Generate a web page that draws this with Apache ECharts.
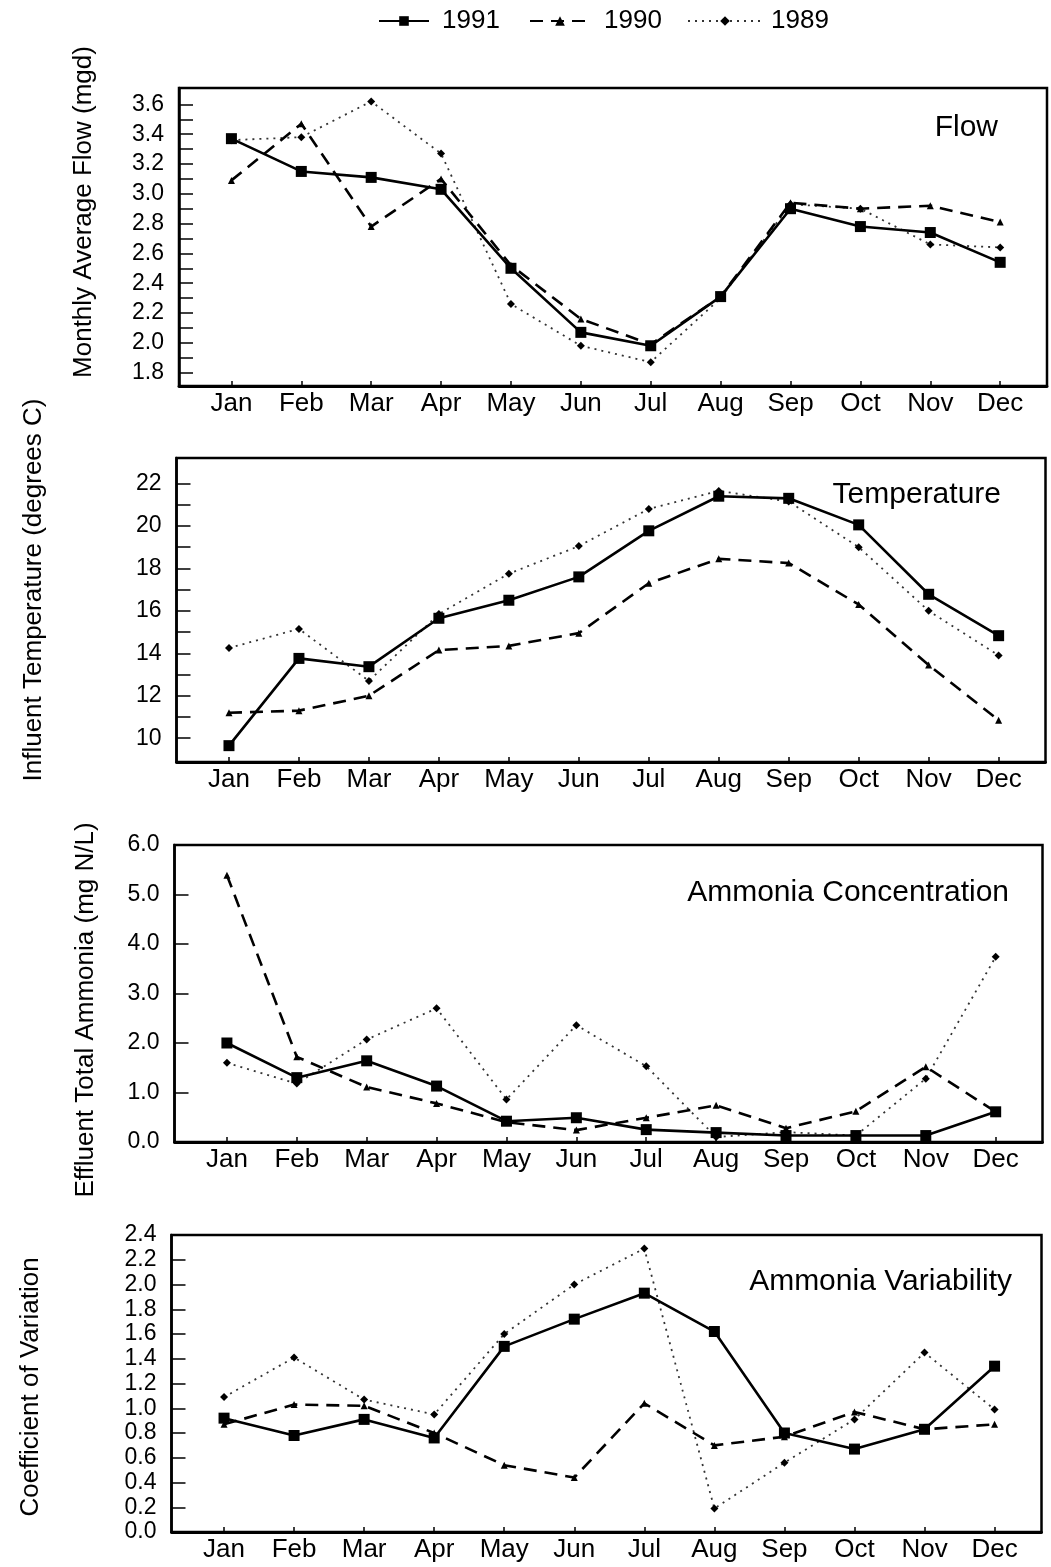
<!DOCTYPE html>
<html>
<head>
<meta charset="utf-8">
<script src="https://cdn.jsdelivr.net/npm/echarts@6/dist/echarts.min.js"></script>
<style>
  html, body { margin: 0; padding: 0; background: #fff; }
  #chart { width: 1051px; height: 1567px; }
</style>
</head>
<body>
<div id="chart"></div>
<script>
// Monthly wastewater treatment summary, three years side by side.
const months = ['Jan', 'Feb', 'Mar', 'Apr', 'May', 'Jun', 'Jul', 'Aug', 'Sep', 'Oct', 'Nov', 'Dec'];
const monthIndex = [1, 2, 3, 4, 5, 6, 7, 8, 9, 10, 11, 12];
const years = ['1991', '1990', '1989'];

// Monthly average flow (mgd)
const flow1991 = [3.37, 3.15, 3.11, 3.03, 2.50, 2.07, 1.98, 2.31, 2.90, 2.78, 2.74, 2.54];
const flow1990 = [3.09, 3.47, 2.78, 3.10, 2.52, 2.16, 1.99, 2.31, 2.94, 2.90, 2.92, 2.81];
const flow1989 = [3.36, 3.38, 3.62, 3.27, 2.26, 1.98, 1.87, 2.30, 2.93, 2.90, 2.66, 2.64];

// Influent temperature (degrees C)
const temp1991 = [9.65, 13.76, 13.37, 15.65, 16.5, 17.6, 19.77, 21.4, 21.3, 20.05, 16.78, 14.83];
const temp1990 = [11.2, 11.3, 12.0, 14.15, 14.35, 14.95, 17.3, 18.45, 18.25, 16.3, 13.45, 10.85];
const temp1989 = [14.25, 15.15, 12.7, 15.85, 17.75, 19.05, 20.8, 21.65, 21.15, 19.0, 16.0, 13.9];

// Effluent total ammonia (mg N/L)
const ammo1991 = [2.00, 1.30, 1.64, 1.13, 0.42, 0.49, 0.25, 0.19, 0.13, 0.13, 0.13, 0.61];
const ammo1990 = [5.39, 1.72, 1.11, 0.78, 0.40, 0.24, 0.49, 0.74, 0.28, 0.62, 1.52, 0.61];
const ammo1989 = [1.60, 1.18, 2.07, 2.70, 0.86, 2.36, 1.53, 0.10, 0.20, 0.13, 1.28, 3.74];

// Coefficient of variation of ammonia
const cv1991 = [0.92, 0.78, 0.91, 0.76, 1.50, 1.72, 1.93, 1.62, 0.80, 0.67, 0.83, 1.34];
const cv1990 = [0.87, 1.03, 1.02, 0.80, 0.54, 0.44, 1.04, 0.70, 0.77, 0.97, 0.83, 0.87];
const cv1989 = [1.09, 1.41, 1.07, 0.95, 1.60, 2.00, 2.29, 0.19, 0.56, 0.91, 1.45, 0.99];

// Tick positions and labelled ticks of each value axis
const flowTicks = [1.8, 1.9, 2.0, 2.1, 2.2, 2.3, 2.4, 2.5, 2.6, 2.7, 2.8, 2.9, 3.0, 3.1, 3.2, 3.3, 3.4, 3.5, 3.6];
const flowLabels = [1.8, 2.0, 2.2, 2.4, 2.6, 2.8, 3.0, 3.2, 3.4, 3.6];
const tempTicks = [10, 11, 12, 13, 14, 15, 16, 17, 18, 19, 20, 21, 22];
const tempLabels = [10, 12, 14, 16, 18, 20, 22];
const ammoTicks = [0, 1, 2, 3, 4, 5, 6];
const ammoLabels = [0, 1, 2, 3, 4, 5, 6];
const cvTicks = [0, 0.2, 0.4, 0.6, 0.8, 1.0, 1.2, 1.4, 1.6, 1.8, 2.0, 2.2, 2.4];
const cvLabels = [0, 0.2, 0.4, 0.6, 0.8, 1.0, 1.2, 1.4, 1.6, 1.8, 2.0, 2.2, 2.4];

const FONT = '"Liberation Sans", Arial, Helvetica, sans-serif';

const panels = [
  { title: 'Flow', axisName: 'Monthly Average Flow (mgd)',
    series: [flow1991, flow1990, flow1989], ticks: flowTicks, labels: flowLabels,
    min: 1.71, max: 3.71, digits: 1,
    grid: { left: 179, top: 88, width: 868, height: 298 },
    titlePos: [998, 128], namePos: [84, 212] },
  { title: 'Temperature', axisName: 'Influent Temperature (degrees C)',
    series: [temp1991, temp1990, temp1989], ticks: tempTicks, labels: tempLabels,
    min: 8.88, max: 23.2, digits: 0,
    grid: { left: 176.5, top: 458, width: 869, height: 304 },
    titlePos: [1001, 495], namePos: [34, 590] },
  { title: 'Ammonia Concentration', axisName: 'Effluent Total Ammonia (mg N/L)',
    series: [ammo1991, ammo1990, ammo1989], ticks: ammoTicks, labels: ammoLabels,
    min: 0, max: 6, digits: 1,
    grid: { left: 174.5, top: 845, width: 868, height: 297 },
    titlePos: [1009, 893], namePos: [86, 1010] },
  { title: 'Ammonia Variability', axisName: 'Coefficient of Variation',
    series: [cv1991, cv1990, cv1989], ticks: cvTicks, labels: cvLabels,
    min: 0, max: 2.4, digits: 1,
    grid: { left: 171.5, top: 1235, width: 870, height: 297 },
    titlePos: [1012, 1282], namePos: [31, 1387] }
];

const seriesStyle = {
  '1991': { symbol: 'rect', symbolSize: 11, lineStyle: { color: '#000', width: 2.6, type: 'solid' }, z: 5 },
  '1990': { symbol: 'triangle', symbolSize: 7, lineStyle: { color: '#000', width: 2.6, type: [13, 8] }, z: 4 },
  '1989': { symbol: 'diamond', symbolSize: 8, lineStyle: { color: '#333', width: 1.8, type: [2, 5] }, z: 3 }
};

// One legend block per year so each key sample can have its own length
const legendKeys = [
  { name: '1991', left: 378, itemWidth: 50, textPad: 8 },
  { name: '1990', left: 529, itemWidth: 60, textPad: 9 },
  { name: '1989', left: 687, itemWidth: 74, textPad: 4 }
];

const grid = [], xAxis = [], yAxis = [], series = [], graphic = [];

panels.forEach((p, i) => {
  grid.push(Object.assign({ show: true, borderColor: '#000', borderWidth: 2.5, containLabel: false }, p.grid));

  xAxis.push({
    type: 'value', gridIndex: i, min: 0.25, max: 12.67,
    axisLine: { show: true, onZero: false, lineStyle: { color: '#000', width: 2.8 } },
    axisTick: { show: true, inside: true, length: 5, customValues: monthIndex, lineStyle: { color: '#000', width: 1.5 } },
    axisLabel: { customValues: monthIndex, formatter: v => months[Math.round(v) - 1],
      fontSize: 26, fontFamily: FONT, color: '#000', margin: 5 },
    splitLine: { show: false }
  });

  yAxis.push({
    type: 'value', gridIndex: i, min: p.min, max: p.max,
    axisLine: { show: true, onZero: false, lineStyle: { color: '#000', width: 2.5 } },
    axisTick: { show: true, inside: true, length: 14, customValues: p.ticks, lineStyle: { color: '#000', width: 1.5 } },
    axisLabel: { customValues: p.labels, formatter: v => v.toFixed(p.digits),
      fontSize: 23, fontFamily: FONT, color: '#000', margin: 15 },
    splitLine: { show: false }
  });

  p.series.forEach((values, k) => {
    const name = years[k];
    const st = seriesStyle[name];
    series.push({
      name, type: 'line', xAxisIndex: i, yAxisIndex: i,
      data: values.map((v, m) => [monthIndex[m], v]),
      symbol: st.symbol, symbolSize: st.symbolSize, showAllSymbol: true,
      lineStyle: st.lineStyle, itemStyle: { color: '#000' },
      z: st.z, silent: true
    });
  });

  graphic.push({
    type: 'text', x: p.titlePos[0], y: p.titlePos[1],
    style: { text: p.title, fontSize: 30, fontFamily: FONT, fill: '#000', align: 'right', verticalAlign: 'middle' }
  });
  graphic.push({
    type: 'text', x: p.namePos[0], y: p.namePos[1], rotation: Math.PI / 2,
    style: { text: p.axisName, fontSize: 26, fontFamily: FONT, fill: '#000', align: 'center', verticalAlign: 'middle' }
  });
});

const legend = legendKeys.map(k => ({
  data: [k.name], left: k.left, top: 8, padding: 0,
  itemWidth: k.itemWidth, itemHeight: 12, selectedMode: false,
  textStyle: { fontSize: 26, fontFamily: FONT, color: '#000', padding: [0, 0, 0, k.textPad] }
}));

const chart = echarts.init(document.getElementById('chart'), null, { renderer: 'canvas' });
chart.setOption({
  backgroundColor: '#fff',
  animation: false,
  legend, grid, xAxis, yAxis, series, graphic
});
</script>
</body>
</html>
